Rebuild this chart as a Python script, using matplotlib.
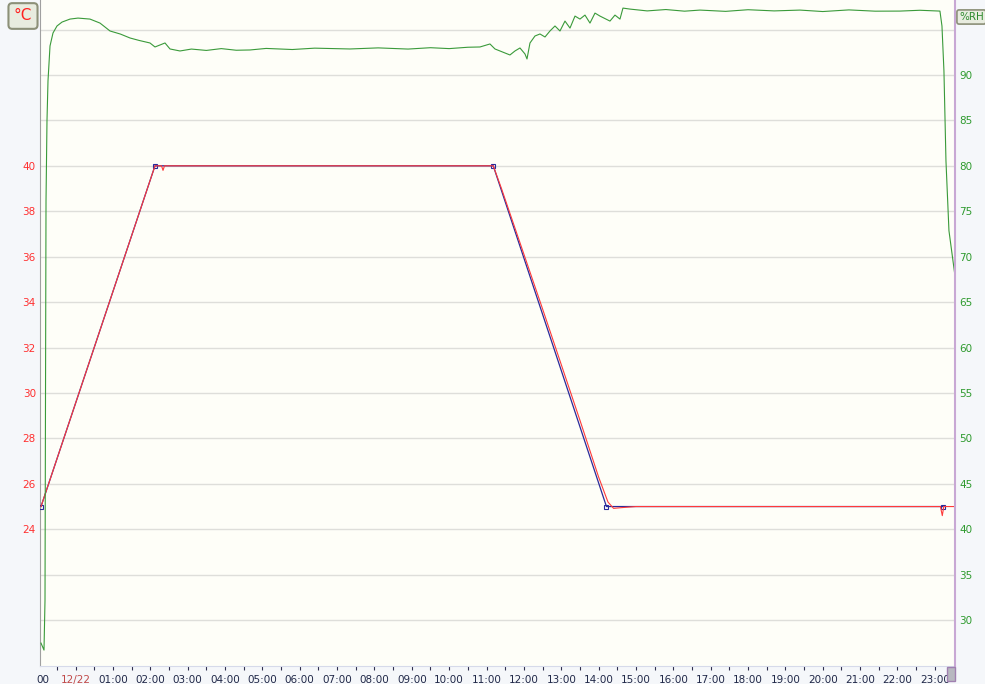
import matplotlib
matplotlib.use("Agg")
import matplotlib.pyplot as plt
from matplotlib.patches import Rectangle

# 温度の設定値 (時間, °C)
set_hours = [-0.926, 2.125, 11.18, 14.21, 23.22]
set_temp = [25, 40, 40, 25, 25]

# 温度の実測値
temp_hours = [-0.926, 2.125, 2.30, 2.34, 2.38, 11.18, 11.40, 12.50, 13.50, 14.00,
              14.25, 14.40, 14.60, 15.00, 23.15, 23.20, 23.24, 23.54]
temp_vals = [25.0, 40.0, 40.0, 39.8, 40.0, 40.0, 39.0, 33.7, 28.8, 26.3,
             25.2, 24.92, 24.95, 25.0, 25.0, 24.6, 25.0, 25.0]

# 湿度 (%RH)
rh_hours = [-0.926, -0.846, -0.819, -0.806, -0.792, -0.766, -0.739, -0.685, -0.605, -0.498,
            -0.364, -0.150, 0.064, 0.385, 0.653, 0.921, 1.20, 1.456, 1.70, 1.991,
            2.125, 2.259, 2.393, 2.527, 2.794, 3.1, 3.5, 3.9, 4.3, 4.668,
            5.1, 5.8, 6.4, 7.345, 8.1, 8.9, 9.5, 10.0, 10.5, 10.824,
            11.092, 11.226, 11.493, 11.627, 11.761, 11.895, 12.029, 12.083, 12.163, 12.297,
            12.431, 12.565, 12.698, 12.832, 12.966, 13.100, 13.234, 13.368, 13.501, 13.635,
            13.769, 13.903, 14.037, 14.304, 14.438, 14.572, 14.652, 14.839, 15.3, 15.8,
            16.3, 16.713, 17.4, 18.0, 18.7, 19.390, 20.0, 20.7, 21.4, 22.067,
            22.6, 23.137, 23.191, 23.244, 23.298, 23.378, 23.539]
rh_vals = [27.47, 26.70, 32.20, 54.18, 76.15, 84.95, 89.34, 93.19, 94.62, 95.39,
           95.82, 96.15, 96.26, 96.15, 95.71, 94.84, 94.50, 94.07, 93.80, 93.52,
           93.08, 93.30, 93.52, 92.86, 92.64, 92.85, 92.70, 92.90, 92.72, 92.75,
           92.92, 92.80, 92.95, 92.86, 92.98, 92.85, 93.00, 92.90, 93.05, 93.08,
           93.41, 92.86, 92.42, 92.20, 92.64, 92.97, 92.31, 91.76, 93.52, 94.29,
           94.51, 94.18, 94.84, 95.39, 94.84, 95.93, 95.16, 96.48, 96.15, 96.59,
           95.71, 96.81, 96.48, 95.93, 96.59, 96.15, 97.36, 97.25, 97.05, 97.20,
           97.02, 97.14, 97.00, 97.18, 97.05, 97.14, 96.98, 97.16, 97.02, 97.03,
           97.12, 97.03, 95.39, 90.44, 80.55, 72.86, 67.91]

# 時間軸ラベル
hour_ticks = list(range(1, 24))
hour_labels = ["%02d:00" % h for h in hour_ticks]

temp_ticks = [24, 26, 28, 30, 32, 34, 36, 38, 40]
rh_ticks = [30, 35, 40, 45, 50, 55, 60, 65, 70, 75, 80, 85, 90]

W, H = 985, 684
fig = plt.figure(figsize=(W / 100, H / 100), dpi=100, facecolor="#F5F7FA")
ax = fig.add_axes([40 / W, 1 - 666 / H, 915 / W, 666 / H])
ax.set_facecolor("#FEFEF8")

xmin, xmax = -0.953, 23.54
tmin, tmax = 17.98, 47.3
ax.set_xlim(xmin, xmax)
ax.set_ylim(tmin, tmax)

# 横のグリッド線
for g in range(20, 48, 2):
    ax.axhline(g, color="#DEDEDA", lw=1, zorder=0)

ax.plot(set_hours, set_temp, color="#2A2A9A", lw=0.9, marker="s", ms=3,
        mfc="none", mec="#2A2A9A", mew=0.8, zorder=3)
ax.plot(temp_hours, temp_vals, color="#FF3A3A", lw=0.8, zorder=4)

ax.set_yticks(temp_ticks)
ax.set_yticklabels([str(t) for t in temp_ticks], color="#FF3030", fontsize=7.5)
ax.tick_params(axis="y", length=0, pad=3)

ticks = [h * 0.5 for h in range(-1, 48)]
ax.set_xticks(ticks)
ax.set_xticklabels([""] * len(ticks))
ax.tick_params(axis="x", length=3, width=0.8, color="#303050", direction="out", pad=1)

for h, lab in zip(hour_ticks, hour_labels):
    ax.text(h, -0.014, lab, transform=ax.get_xaxis_transform(), ha="center", va="top",
            fontsize=7.5, color="#202848")
ax.text(0, -0.014, "12/22", transform=ax.get_xaxis_transform(), ha="center", va="top",
        fontsize=7.5, color="#C04848")
ax.text(-0.87, -0.014, "00", transform=ax.get_xaxis_transform(), ha="center", va="top",
        fontsize=7.5, color="#202848")

ax.spines["top"].set_visible(False)
ax.spines["left"].set_color("#A0A0A0")
ax.spines["bottom"].set_color("#D6DAEA")
ax.spines["right"].set_visible(False)

ax2 = ax.twinx()
ax2.set_ylim(30 + (tmin - 20) * 2.5, 30 + (tmax - 20) * 2.5)
ax2.plot(rh_hours, rh_vals, color="#3A9A3A", lw=0.8, zorder=2)
ax2.set_yticks(rh_ticks)
ax2.set_yticklabels([str(t) for t in rh_ticks], color="#2E9A2E", fontsize=7.5)
ax2.tick_params(axis="y", length=0, pad=3)
for s in ["top", "left", "bottom"]:
    ax2.spines[s].set_visible(False)
ax2.spines["right"].set_color("#C8A8D4")
ax2.spines["right"].set_linewidth(1.5)

# 単位ボックス
fig.text(23 / W, 1 - 16 / H, "°C", ha="center", va="center", fontsize=11, color="#FF2020",
         bbox=dict(boxstyle="round,pad=0.35,rounding_size=0.25", fc="#E8ECDF", ec="#8C9078", lw=1.5))
fig.text(959 / W, 1 - 17 / H, "%RH", ha="left", va="center", fontsize=7.5, color="#2E8A2E",
         bbox=dict(boxstyle="round,pad=0.2,rounding_size=0.2", fc="#E8ECDF", ec="#8C9078", lw=1.2))

# スクロールつまみ
fig.add_artist(Rectangle((947 / W, 1 - 681 / H), 8 / W, 14 / H, transform=fig.transFigure,
                         fc="#B8B8C0", ec="#A080B0", lw=1))

plt.savefig("out.png", dpi=100, facecolor=fig.get_facecolor())
